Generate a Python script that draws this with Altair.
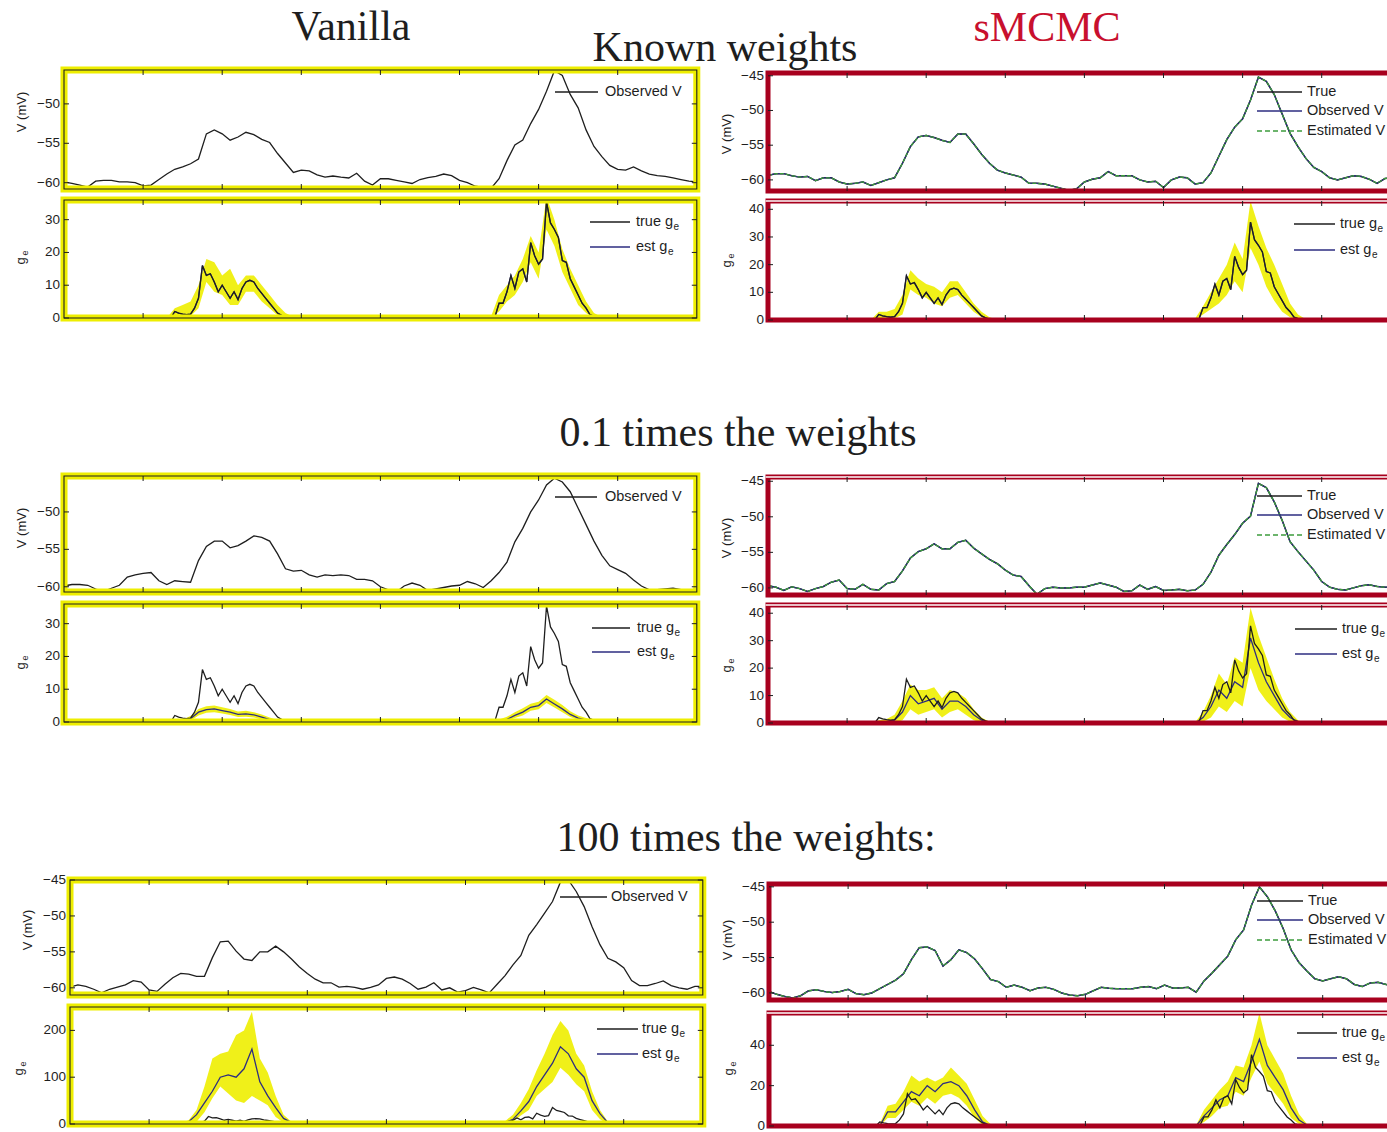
import altair as alt
import pandas as pd

# ---------------- data ----------------
X_TICKS = [1, 2, 3, 4, 5, 6, 7]
V_STEP = 0.1

# membrane potential traces (mV), every 0.1 time units
V_VAN_KNOWN = [-59.9, -60.1, -60.3, -60.55, -59.8, -59.7, -59.7, -59.9, -59.9, -60.0,
               -60.4, -60.3, -59.6, -58.9, -58.3, -58.0, -57.6, -57.0, -53.8, -53.3,
               -53.8, -54.6, -54.2, -53.6, -53.9, -54.5, -54.9, -56.3, -57.5, -58.7,
               -58.4, -58.5, -59.0, -59.3, -59.15, -59.3, -59.4, -58.8, -59.8, -60.3,
               -59.5, -59.5, -59.7, -59.9, -60.1, -59.6, -59.35, -59.2, -58.9, -59.1,
               -59.7, -60.0, -60.45, -60.6, -60.7, -59.5, -57.2, -55.2, -54.6, -52.5,
               -50.7, -48.4, -45.8, -46.4, -48.8, -50.5, -53.3, -55.4, -56.7, -57.8,
               -58.3, -58.4, -58.0, -58.5, -58.9, -59.1, -59.2, -59.4, -59.6, -59.8,
               -59.9]
V_SMC_KNOWN = [-59.35, -59.1, -59.1, -59.4, -59.6, -59.5, -60.1, -59.7, -59.7, -60.3,
               -60.6, -60.5, -60.3, -60.8, -60.4, -60.0, -59.7, -57.6, -55.2, -53.8,
               -53.6, -53.9, -54.3, -54.6, -53.4, -53.4, -54.8, -56.3, -57.6, -58.6,
               -59.0, -59.3, -59.6, -60.5, -60.5, -60.6, -60.9, -61.2, -61.5, -61.3,
               -60.3, -59.9, -59.7, -58.8, -59.4, -59.4, -59.4, -60.0, -60.3, -60.2,
               -61.1, -60.0, -59.6, -59.7, -60.6, -60.4, -59.0, -56.6, -54.2, -52.4,
               -51.2, -48.5, -45.2, -45.8, -47.7, -50.5, -53.3, -55.2, -56.9, -58.2,
               -58.8, -59.7, -60.0, -59.7, -59.4, -59.5, -59.9, -60.5, -59.8, -59.7]
V_VAN_01 = [-59.9, -59.7, -59.7, -59.8, -60.3, -60.6, -60.2, -59.8, -58.7, -58.4,
            -58.2, -58.1, -59.2, -59.7, -59.2, -59.3, -59.4, -56.5, -54.6, -53.9,
            -53.9, -54.8, -54.5, -53.9, -53.2, -53.4, -53.9, -55.6, -57.6, -57.9,
            -57.8, -58.4, -58.7, -58.4, -58.5, -58.4, -58.5, -59.0, -59.0, -59.2,
            -60.0, -60.4, -60.7, -59.9, -59.5, -59.8, -60.5, -60.3, -60.1, -59.9,
            -59.8, -59.3, -59.6, -60.1, -59.2, -58.1, -56.7, -54.0, -52.2, -50.0,
            -48.4, -46.4, -45.5, -46.0, -47.3, -49.5, -51.7, -53.9, -55.8, -57.2,
            -57.7, -58.2, -59.1, -59.9, -60.4, -60.4, -60.3, -60.2, -60.4, -60.5,
            -60.3]
V_SMC_01 = [-59.7, -59.9, -60.35, -59.85, -60.1, -60.5, -60.1, -59.8, -59.2, -58.9,
            -60.1, -60.2, -59.5, -60.2, -60.3, -59.4, -59.1, -57.6, -55.8, -54.9,
            -54.5, -53.8, -54.5, -54.5, -53.6, -53.3, -54.4, -55.2, -56.0, -56.6,
            -57.5, -58.2, -58.4, -59.7, -60.9, -60.1, -59.9, -60.0, -60.0, -59.9,
            -59.9, -59.6, -59.3, -59.6, -59.9, -60.5, -60.4, -59.6, -60.2, -59.8,
            -60.35, -60.3, -60.2, -60.4, -60.3, -59.5, -57.8, -55.4, -53.9, -52.5,
            -50.9, -49.9, -45.3, -45.9, -47.9, -50.5, -53.5, -54.9, -56.2, -57.5,
            -59.1, -59.9, -60.2, -60.3, -60.0, -59.7, -59.55, -59.8, -59.9, -59.9]
V_VAN_100 = [-59.9, -59.6, -59.8, -60.2, -60.7, -60.2, -59.9, -59.6, -59.0, -59.2,
             -60.3, -60.5, -59.5, -58.6, -58.0, -58.1, -58.4, -58.4, -55.8, -53.6,
             -53.5, -54.9, -56.0, -56.2, -55.0, -55.0, -54.2, -55.0, -56.0, -57.1,
             -58.0, -58.8, -59.3, -59.3, -59.9, -59.8, -59.95, -60.2, -59.95, -59.6,
             -58.7, -58.5, -58.8, -59.4, -60.2, -59.9, -59.3, -60.3, -60.0, -60.6,
             -60.4, -59.95, -60.3, -60.7, -59.5, -58.3, -56.8, -55.5, -52.7, -51.2,
             -49.6, -48.0, -45.3, -45.0, -46.6, -48.7, -51.5, -54.0, -55.9, -56.4,
             -57.2, -59.0, -59.7, -59.7, -59.4, -59.05, -59.7, -60.0, -60.2, -59.8,
             -59.8]
V_SMC_100 = [-59.8, -60.2, -60.5, -60.7, -60.4, -59.7, -59.55, -59.8, -59.95, -59.8,
             -59.5, -60.1, -60.25, -60.0, -59.4, -58.8, -58.2, -57.3, -55.3, -53.6,
             -53.5, -54.0, -56.2, -55.3, -53.9, -54.3, -55.2, -56.6, -58.1, -58.4,
             -59.2, -58.9, -59.2, -59.7, -59.3, -59.2, -59.5, -60.0, -60.3, -60.4,
             -60.2, -59.7, -59.2, -59.35, -59.4, -59.4, -59.4, -59.2, -59.1, -59.4,
             -58.9, -59.3, -59.3, -59.2, -59.9, -58.3, -57.2, -56.0, -54.8, -52.5,
             -51.1, -47.6, -45.0, -46.4, -48.4, -50.9, -53.9, -55.7, -56.9, -58.0,
             -58.3, -58.0, -57.7, -58.0, -58.8, -59.1, -58.6, -58.5, -58.8, -59.0]

# true excitatory conductance, two active windows, every 0.05 units
G_FINE_STEP = 0.05
G_W1_START = 1.35
G_W2_START = 5.40
G_TRUE_W1 = [0, 2, 1.5, 1.2, 1.0, 1.2, 3, 6, 16, 13, 13.5, 11, 8, 10, 8, 6, 8, 5.6, 9, 11,
             11.5, 11, 9, 7.5, 6, 4.5, 3, 1.5, 0.8, 0.3, 0]
G_TRUE_W2 = [0, 0.5, 4.5, 4.5, 8, 13, 9, 14, 15, 11, 23, 19, 16.4, 18, 35.4, 29, 27, 24.6,
             17.5, 17, 12, 9.5, 7, 4.5, 3, 1, 0.5, 0]

# estimates and credible bands, every 0.1 units
B_STEP = 0.1
B_W1_START = 1.4
B_W2_START = 5.4

# known weights, vanilla
BK_VAN_HI_W1 = [3, 4, 5, 10, 18, 17, 13, 15, 10, 13, 13, 10, 7, 4, 1.5, 0.3]
BK_VAN_LO_W1 = [0.5, 0.5, 0.5, 3, 11, 8, 7, 4, 4, 8, 8, 5, 3, 0.8, 0, 0]
BK_VAN_HI_W2 = [0.5, 7, 10, 13, 18, 25, 20, 37, 30, 21, 15, 10, 5, 1.5, 0.2]
BK_VAN_LO_W2 = [0, 2, 5, 7, 11, 17, 12, 27, 22, 14, 9, 4, 1.5, 0, 0]
# known weights, sMCMC
BK_SMC_HI_W1 = [3, 3, 4, 9, 18, 15, 13, 12, 10, 14, 14, 10, 6, 3, 1, 0.2]
BK_SMC_LO_W1 = [0.3, 0.5, 0.5, 2, 11, 9, 8, 6, 5, 8, 9, 6, 3, 1, 0, 0]
BK_SMC_HI_W2 = [0.5, 5, 10, 15, 20, 28, 22, 43, 34, 26, 20, 13, 6, 2, 0.3]
BK_SMC_LO_W2 = [0, 2, 4, 6, 9, 14, 10, 26, 20, 12, 7, 3, 1, 0, 0]
# 0.1 x weights, vanilla
E01_VAN_W1 = [0, 0.3, 1, 3, 3.8, 4, 3.5, 3, 2.3, 2.5, 2.2, 1.5, 0.7, 0.2, 0, 0]
E01_VAN_W2 = [0, 0.3, 0.8, 2, 3, 4.5, 5, 7, 5.5, 4, 2.3, 1.2, 0.6, 0.2, 0]
B01_VAN_HI_W1 = [0.2, 0.8, 1.8, 4, 4.8, 5, 4.5, 4, 3.2, 3.4, 3, 2.3, 1.4, 0.6, 0.1, 0]
B01_VAN_LO_W1 = [0, 0, 0.4, 2, 2.8, 3, 2.6, 2.1, 1.5, 1.6, 1.4, 0.8, 0.2, 0, 0, 0]
B01_VAN_HI_W2 = [0.1, 0.8, 1.6, 3, 4.2, 5.6, 6.2, 8.2, 6.8, 5.2, 3.3, 2, 1.2, 0.5, 0]
B01_VAN_LO_W2 = [0, 0, 0.3, 1.2, 2, 3.4, 3.9, 5.8, 4.4, 3, 1.5, 0.6, 0.2, 0, 0]
# 0.1 x weights, sMCMC
E01_SMC_W1 = [0.5, 0.5, 1, 4, 10, 7, 8, 9, 5, 8, 8, 6, 3, 1, 0.2, 0]
E01_SMC_W2 = [0, 2, 6, 12, 9, 15, 13, 31, 22, 15, 10, 5, 2, 0.5, 0]
B01_SMC_HI_W1 = [1, 1.5, 3, 8, 14, 12, 12, 13, 9, 12, 11, 9, 5, 2, 0.5, 0]
B01_SMC_LO_W1 = [0, 0, 0, 1, 5, 3, 4, 5, 2, 4, 5, 3, 1, 0, 0, 0]
B01_SMC_HI_W2 = [0.3, 4, 10, 18, 14, 24, 22, 42, 32, 24, 16, 9, 4, 1, 0]
B01_SMC_LO_W2 = [0, 0.5, 2, 6, 4, 8, 6, 20, 12, 8, 5, 2, 0.5, 0, 0]
# 100 x weights, vanilla
E100_VAN_W1 = [1, 5, 20, 45, 70, 100, 105, 100, 118, 160, 90, 60, 35, 12, 3, 0]
E100_VAN_W2 = [0, 3, 10, 28, 48, 80, 105, 130, 165, 150, 118, 100, 50, 22, 3]
B100_VAN_HI_W1 = [2, 8, 30, 80, 140, 150, 155, 190, 200, 240, 140, 110, 60, 20, 5, 0]
B100_VAN_LO_W1 = [0, 0, 5, 25, 55, 80, 65, 50, 45, 60, 50, 40, 15, 3, 0, 0]
B100_VAN_HI_W2 = [0, 6, 20, 45, 75, 115, 150, 190, 220, 200, 150, 125, 70, 30, 5]
B100_VAN_LO_W2 = [0, 1, 5, 18, 30, 60, 75, 90, 120, 105, 85, 70, 30, 10, 0]
# 100 x weights, sMCMC
E100_SMC_W1 = [0, 7, 7, 12, 17, 15, 20, 17, 21, 22, 20, 15, 8, 2, 0.2, 0]
E100_SMC_W2 = [0, 5, 9, 13, 15, 24, 22, 32, 43, 30, 24, 18, 9, 3, 0.5]
B100_SMC_HI_W1 = [1, 10, 11, 17, 25, 22, 24, 22, 24, 29, 25, 21, 13, 5, 1, 0]
B100_SMC_LO_W1 = [0, 4, 4, 8, 12, 10, 14, 11, 15, 16, 14, 10, 4, 0.5, 0, 0]
B100_SMC_HI_W2 = [0.5, 8, 13, 18, 22, 30, 29, 40, 56, 40, 33, 26, 15, 6, 1]
B100_SMC_LO_W2 = [0, 2, 5, 9, 10, 17, 15, 24, 32, 21, 16, 11, 4, 1, 0]

TITLES = ["Vanilla", "Known weights", "sMCMC", "0.1 times the weights", "100 times the weights:"]
V_LEGEND_VAN = ["Observed V"]
V_LEGEND_SMC = ["True", "Observed V", "Estimated V"]
G_LEGEND = ["true g", "est g"]

# ---------------- styling / layout ----------------
PX_PER_UNIT = 79.1
YELLOW = "#eeee00"
RED = "#a8001e"
DARK = "#1e1e1e"
NAVY = "#2d2d80"
GREEN = "#3c9c3c"
SANS = "Liberation Sans"
SERIF = "Liberation Serif"
MINUS = "\u2212"


def grid(start, step, n):
    return [round(start + i * step, 4) for i in range(n)]


def padded(vals, start, step):
    """window values framed by zero points one step before and after"""
    xs = [round(start - step, 4)] + grid(start, step, len(vals)) + [round(start + len(vals) * step, 4)]
    return xs, [0.0] + list(vals) + [0.0]


def win_df(w1, w2, s1, s2, step):
    x1, y1 = padded(w1, s1, step)
    x2, y2 = padded(w2, s2, step)
    return pd.DataFrame({"x": [0.0] + x1 + x2 + [8.0], "y": [0.0] + y1 + y2 + [0.0]})


def band_df(lo1, hi1, lo2, hi2):
    xa, la = padded(lo1, B_W1_START, B_STEP)
    _, ha = padded(hi1, B_W1_START, B_STEP)
    xb, lb = padded(lo2, B_W2_START, B_STEP)
    _, hb = padded(hi2, B_W2_START, B_STEP)
    return pd.DataFrame({"x": [0.0] + xa + xb + [8.0], "lo": [0.0] + la + lb + [0.0],
                         "hi": [0.0] + ha + hb + [0.0]})


TRUE_G = win_df(G_TRUE_W1, G_TRUE_W2, G_W1_START, G_W2_START, G_FINE_STEP)


def coarse(w1, w2):
    return win_df(w1, w2, B_W1_START, B_W2_START, B_STEP)


PANELS = [
    dict(side="L", x0=64, V=V_VAN_KNOWN, v_box=(70, 189), v_dom=(-60.8, -45.7), v_ticks=[-60, -55, -50],
         g_box=(200, 318), g_dom=(0, 36), g_ticks=[0, 10, 20, 30], est=TRUE_G,
         band=band_df(BK_VAN_LO_W1, BK_VAN_HI_W1, BK_VAN_LO_W2, BK_VAN_HI_W2),
         v_leg=(555, 598, 605, [92]), g_leg=(590, 630, 636, [222, 247]), vt=(22, 112), gt=(21, 258),
         dbl=()),
    dict(side="R", x0=768, V=V_SMC_KNOWN, v_box=(73, 191), v_dom=(-61.6, -44.6), v_ticks=[-60, -55, -50, -45],
         g_box=(201, 320), g_dom=(0, 43), g_ticks=[0, 10, 20, 30, 40], est=TRUE_G,
         band=band_df(BK_SMC_LO_W1, BK_SMC_HI_W1, BK_SMC_LO_W2, BK_SMC_HI_W2),
         v_leg=(1257, 1302, 1307, [92, 111, 131]), g_leg=(1294, 1335, 1340, [224, 250]), vt=(727, 134), gt=(727, 261),
         dbl=("g",)),
    dict(side="L", x0=64, V=V_VAN_01, v_box=(476, 592), v_dom=(-60.7, -45.2), v_ticks=[-60, -55, -50],
         g_box=(604, 722), g_dom=(0, 36), g_ticks=[0, 10, 20, 30], est=coarse(E01_VAN_W1, E01_VAN_W2),
         band=band_df(B01_VAN_LO_W1, B01_VAN_HI_W1, B01_VAN_LO_W2, B01_VAN_HI_W2),
         v_leg=(555, 597, 605, [497]), g_leg=(592, 630, 637, [628, 652]), vt=(22, 528), gt=(21, 663),
         dbl=()),
    dict(side="R", x0=768, V=V_SMC_01, v_box=(477, 595), v_dom=(-61.0, -44.4), v_ticks=[-60, -55, -50, -45],
         g_box=(605, 723), g_dom=(0, 43), g_ticks=[0, 10, 20, 30, 40], est=coarse(E01_SMC_W1, E01_SMC_W2),
         band=band_df(B01_SMC_LO_W1, B01_SMC_HI_W1, B01_SMC_LO_W2, B01_SMC_HI_W2),
         v_leg=(1257, 1302, 1307, [496, 515, 535]), g_leg=(1295, 1337, 1342, [629, 654]), vt=(727, 538), gt=(727, 666),
         dbl=("v", "g")),
    dict(side="L", x0=70, V=V_VAN_100, v_box=(880, 995), v_dom=(-61.0, -45.0), v_ticks=[-60, -55, -50, -45],
         g_box=(1007, 1124), g_dom=(0, 250), g_ticks=[0, 100, 200], est=coarse(E100_VAN_W1, E100_VAN_W2),
         band=band_df(B100_VAN_LO_W1, B100_VAN_HI_W1, B100_VAN_LO_W2, B100_VAN_HI_W2),
         v_leg=(560, 607, 611, [897]), g_leg=(597, 638, 642, [1029, 1054]), vt=(28, 930), gt=(19, 1069),
         dbl=()),
    dict(side="R", x0=769, V=V_SMC_100, v_box=(884, 1000), v_dom=(-61.0, -44.6), v_ticks=[-60, -55, -50, -45],
         g_box=(1013, 1126), g_dom=(0, 56), g_ticks=[0, 20, 40], est=coarse(E100_SMC_W1, E100_SMC_W2),
         band=band_df(B100_SMC_LO_W1, B100_SMC_HI_W1, B100_SMC_LO_W2, B100_SMC_HI_W2),
         v_leg=(1257, 1303, 1308, [901, 920, 940]), g_leg=(1297, 1337, 1342, [1033, 1058]), vt=(728, 940), gt=(729, 1069),
         dbl=("g",)),
]

layers = []


def XQ(f, xs):
    return alt.X(f, type="quantitative", scale=xs, axis=None)


def YQ(f, ys):
    return alt.Y(f, type="quantitative", scale=ys, axis=None)


def fmt(v):
    return (MINUS + str(abs(v))) if v < 0 else str(v)


for P in PANELS:
    xs = alt.Scale(domain=[0, 8], range=[P["x0"], P["x0"] + 8 * PX_PER_UNIT], nice=False, zero=False)
    for part in ("v", "g"):
        top, bot = P[part + "_box"]
        dom = P[part + "_dom"]
        ys = alt.Scale(domain=list(dom), range=[bot, top], nice=False, zero=False)
        if part == "v":
            vdf = pd.DataFrame({"x": grid(0, V_STEP, len(P["V"])), "y": P["V"]})
            if P["side"] == "L":
                layers.append(alt.Chart(vdf).mark_line(color=DARK, strokeWidth=1.3).encode(x=XQ("x", xs), y=YQ("y", ys)))
            else:
                layers.append(alt.Chart(vdf).mark_line(color=DARK, strokeWidth=1.5).encode(x=XQ("x", xs), y=YQ("y", ys)))
                layers.append(alt.Chart(vdf).mark_line(color=NAVY, strokeWidth=1.2).encode(x=XQ("x", xs), y=YQ("y", ys)))
                layers.append(alt.Chart(vdf).mark_line(color=GREEN, strokeWidth=1.3, strokeDash=[4, 2]).encode(x=XQ("x", xs), y=YQ("y", ys)))
        else:
            layers.append(alt.Chart(P["band"]).mark_area(color=YELLOW, opacity=0.9).encode(
                x=XQ("x", xs), y=YQ("lo", ys), y2="hi:Q"))
            layers.append(alt.Chart(P["est"]).mark_line(color=NAVY, strokeWidth=1.3).encode(x=XQ("x", xs), y=YQ("y", ys)))
            layers.append(alt.Chart(TRUE_G).mark_line(color=DARK, strokeWidth=1.3).encode(x=XQ("x", xs), y=YQ("y", ys)))

        # frame
        fdf = pd.DataFrame({"x": [0.0], "x2": [8.0], "y": [dom[0]], "y2": [dom[1]]})
        fb = alt.Chart(fdf).encode(x=XQ("x", xs), x2="x2:Q", y=YQ("y", ys), y2="y2:Q")
        if P["side"] == "L":
            layers.append(fb.mark_rect(fillOpacity=0, stroke=YELLOW, strokeWidth=7))
            layers.append(fb.mark_rect(fillOpacity=0, stroke=DARK, strokeWidth=1.1))
        else:
            layers.append(fb.mark_rect(fillOpacity=0, stroke=RED, strokeWidth=5))
            if part in P["dbl"]:
                tdf = pd.DataFrame({"x": [-0.03], "x2": [8.0], "y": [dom[1]]})
                layers.append(alt.Chart(tdf).mark_rule(color="white", strokeWidth=1.6).encode(
                    x=XQ("x", xs), x2="x2:Q", y=YQ("y", ys)))

        # ticks (inward)
        ppu_y = (bot - top) / (dom[1] - dom[0])
        ly = 5.0 / ppu_y
        lx = 5.0 / PX_PER_UNIT
        rows = []
        for t in X_TICKS:
            rows.append((t, t, dom[0], dom[0] + ly))
            rows.append((t, t, dom[1], dom[1] - ly))
        for v in P[part + "_ticks"]:
            rows.append((0.0, lx, v, v))
            if P["side"] == "L":
                rows.append((8.0, 8.0 - lx, v, v))
        tk = pd.DataFrame(rows, columns=["x", "x2", "y", "y2"])
        layers.append(alt.Chart(tk).mark_rule(color=DARK, strokeWidth=1).encode(
            x=XQ("x", xs), x2="x2:Q", y=YQ("y", ys), y2="y2:Q"))

        # tick labels
        lab = pd.DataFrame({"x": [0.0] * len(P[part + "_ticks"]), "y": P[part + "_ticks"],
                            "label": [fmt(v) for v in P[part + "_ticks"]]})
        layers.append(alt.Chart(lab).mark_text(align="right", baseline="middle", dx=-4, font=SANS,
                                               fontSize=13.5, color=DARK).encode(
            x=XQ("x", xs), y=YQ("y", ys), text="label:N"))

# ---------------- annotations in page pixels ----------------
PIX = dict(scale=None, axis=None)

title_df = pd.DataFrame({
    "px": [351, 725, 1047, 738, 746],
    "py": [40, 61, 41, 446, 851],
    "label": TITLES,
    "color": [DARK, DARK, "#c8102e", DARK, DARK],
})
layers.append(alt.Chart(title_df).mark_text(align="center", baseline="alphabetic", font=SERIF, fontSize=42).encode(
    x=alt.X("px:Q", **PIX), y=alt.Y("py:Q", **PIX), text="label:N", color=alt.Color("color:N", scale=None, legend=None)))

# legends
leg_lines, leg_dash, leg_text, leg_sub = [], [], [], []
for P in PANELS:
    x0, x1, xt, ysv = P["v_leg"]
    labels = V_LEGEND_VAN if P["side"] == "L" else V_LEGEND_SMC
    cols = [DARK] if P["side"] == "L" else [DARK, NAVY, GREEN]
    for lab, y, c in zip(labels, ysv, cols):
        if lab == "Estimated V":
            leg_dash.append((x0, x1, y, c))
        else:
            leg_lines.append((x0, x1, y, c))
        leg_text.append((xt, y, lab))
    x0, x1, xt, ysg = P["g_leg"]
    for lab, y, c, w in zip(G_LEGEND, ysg, [DARK, NAVY], [37.0, 31.4]):
        leg_lines.append((x0, x1, y, c))
        leg_text.append((xt, y, lab))
        leg_sub.append((xt + w + 0.5, y + 5, "e"))

ll = pd.DataFrame(leg_lines, columns=["px", "px2", "py", "color"])
layers.append(alt.Chart(ll).mark_rule(strokeWidth=1.3).encode(
    x=alt.X("px:Q", **PIX), x2="px2:Q", y=alt.Y("py:Q", **PIX), color=alt.Color("color:N", scale=None, legend=None)))
ld = pd.DataFrame(leg_dash, columns=["px", "px2", "py", "color"])
layers.append(alt.Chart(ld).mark_rule(strokeWidth=1.3, strokeDash=[5, 3], color=GREEN).encode(
    x=alt.X("px:Q", **PIX), x2="px2:Q", y=alt.Y("py:Q", **PIX)))
lt = pd.DataFrame(leg_text, columns=["px", "py", "label"])
layers.append(alt.Chart(lt).mark_text(align="left", baseline="middle", font=SANS, fontSize=14.5, color=DARK).encode(
    x=alt.X("px:Q", **PIX), y=alt.Y("py:Q", **PIX), text="label:N"))
ls = pd.DataFrame(leg_sub, columns=["px", "py", "label"])
layers.append(alt.Chart(ls).mark_text(align="left", baseline="middle", font=SANS, fontSize=10, color=DARK).encode(
    x=alt.X("px:Q", **PIX), y=alt.Y("py:Q", **PIX), text="label:N"))

# rotated axis titles
at_main, at_sub = [], []
for P in PANELS:
    at_main.append((P["vt"][0], P["vt"][1], "V (mV)"))
    at_main.append((P["gt"][0], P["gt"][1] + 3, "g"))
    at_sub.append((P["gt"][0] + 4, P["gt"][1] - 5, "e"))
am = pd.DataFrame(at_main, columns=["px", "py", "label"])
layers.append(alt.Chart(am).mark_text(align="center", baseline="middle", font=SANS, fontSize=13, angle=270,
                                      color=DARK).encode(
    x=alt.X("px:Q", **PIX), y=alt.Y("py:Q", **PIX), text="label:N"))
asb = pd.DataFrame(at_sub, columns=["px", "py", "label"])
layers.append(alt.Chart(asb).mark_text(align="center", baseline="middle", font=SANS, fontSize=9, angle=270,
                                       color=DARK).encode(
    x=alt.X("px:Q", **PIX), y=alt.Y("py:Q", **PIX), text="label:N"))

chart = alt.layer(*layers).resolve_scale(x="independent", y="independent").properties(
    width=1387, height=1132, padding=0, autosize=alt.AutoSizeParams(type="none")
).configure_view(stroke=None)

chart.save("out.html", embed_options={"renderer": "svg", "actions": False})
